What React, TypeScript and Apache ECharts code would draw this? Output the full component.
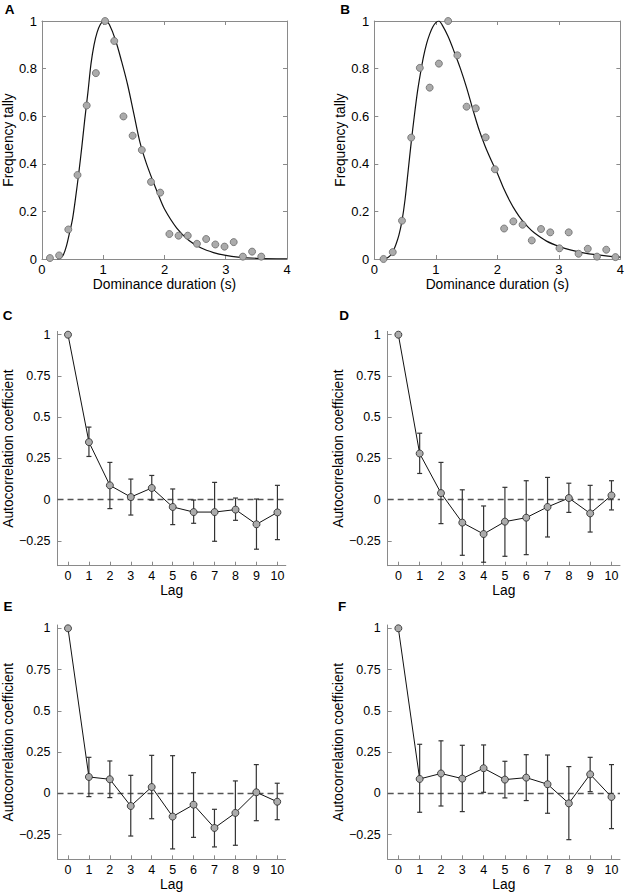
import React, { useEffect, useRef } from "react";
import * as echarts from "echarts";

// ---------- Data ----------
// Panel A: histogram dots + fitted curve
const aDotX = [0.13, 0.28, 0.43, 0.58, 0.73, 0.88, 1.03, 1.18, 1.33, 1.48, 1.63, 1.78, 1.93, 2.08, 2.23, 2.38, 2.53, 2.68, 2.83, 2.98, 3.13, 3.28, 3.43, 3.58];
const aDotY = [0.004, 0.015, 0.124, 0.353, 0.645, 0.781, 1.0, 0.916, 0.599, 0.518, 0.458, 0.324, 0.279, 0.105, 0.098, 0.098, 0.064, 0.084, 0.061, 0.052, 0.071, 0.01, 0.031, 0.01];
const aFitX = [0.25, 0.3, 0.35, 0.4, 0.45, 0.5, 0.55, 0.6, 0.65, 0.7, 0.75, 0.8, 0.85, 0.9, 0.95, 1.0, 1.05, 1.1, 1.2, 1.3, 1.4, 1.5, 1.6, 1.7, 1.8, 1.9, 2.0, 2.2, 2.4, 2.6, 2.8, 3.0, 3.2, 3.5, 4.0];
const aFitY = [0.0, 0.003, 0.018, 0.055, 0.11, 0.17, 0.26, 0.36, 0.47, 0.59, 0.7, 0.82, 0.9, 0.952, 0.984, 0.998, 0.998, 0.985, 0.92, 0.83, 0.73, 0.61, 0.49, 0.405, 0.335, 0.27, 0.21, 0.13, 0.078, 0.046, 0.027, 0.015, 0.008, 0.003, 0.0005];

// Panel B
const bDotX = [0.15, 0.3, 0.45, 0.6, 0.74, 0.9, 1.05, 1.2, 1.35, 1.5, 1.65, 1.81, 1.96, 2.11, 2.26, 2.41, 2.56, 2.71, 2.86, 3.01, 3.16, 3.32, 3.47, 3.62, 3.77, 3.92];
const bDotY = [0.0, 0.029, 0.161, 0.51, 0.803, 0.72, 0.821, 1.0, 0.856, 0.64, 0.633, 0.511, 0.377, 0.128, 0.158, 0.144, 0.078, 0.126, 0.112, 0.045, 0.112, 0.022, 0.043, 0.01, 0.039, 0.008];
const bFitX = [0.15, 0.2, 0.25, 0.3, 0.35, 0.4, 0.45, 0.5, 0.55, 0.6, 0.65, 0.7, 0.75, 0.8, 0.85, 0.9, 0.95, 1.0, 1.05, 1.1, 1.2, 1.3, 1.4, 1.5, 1.6, 1.7, 1.8, 1.9, 2.0, 2.1, 2.2, 2.3, 2.4, 2.5, 2.6, 2.8, 3.0, 3.2, 3.4, 3.6, 3.8, 4.0];
const bFitY = [0.0, 0.003, 0.012, 0.03, 0.06, 0.1, 0.16, 0.25, 0.37, 0.49, 0.6, 0.7, 0.78, 0.85, 0.905, 0.945, 0.975, 0.993, 1.0, 0.985, 0.935, 0.87, 0.8, 0.72, 0.63, 0.545, 0.475, 0.415, 0.36, 0.298, 0.245, 0.2, 0.163, 0.134, 0.11, 0.075, 0.053, 0.037, 0.026, 0.018, 0.012, 0.008];

// Autocorrelation panels
const lags = [0, 1, 2, 3, 4, 5, 6, 7, 8, 9, 10];
const errLags = [1, 2, 3, 4, 5, 6, 7, 8, 9, 10];

const cMean = [1.0, 0.349, 0.087, 0.016, 0.071, -0.044, -0.075, -0.075, -0.06, -0.149, -0.077];
const cLow = [0.262, -0.054, -0.093, -0.002, -0.151, -0.143, -0.252, -0.125, -0.3, -0.242];
const cHigh = [0.44, 0.226, 0.125, 0.147, 0.065, -0.002, 0.105, 0.01, 0.004, 0.087];

const dMean = [1.0, 0.28, 0.04, -0.139, -0.208, -0.133, -0.109, -0.044, 0.01, -0.083, 0.026];
const dLow = [0.159, -0.145, -0.337, -0.379, -0.343, -0.333, -0.226, -0.077, -0.196, -0.062];
const dHigh = [0.403, 0.226, 0.06, -0.038, 0.075, 0.115, 0.135, 0.1, 0.087, 0.115];

const eMean = [1.0, 0.099, 0.085, -0.077, 0.038, -0.141, -0.069, -0.21, -0.119, 0.006, -0.051];
const eLow = [-0.02, -0.026, -0.259, -0.154, -0.337, -0.267, -0.325, -0.315, -0.166, -0.16];
const eHigh = [0.218, 0.196, 0.109, 0.23, 0.228, 0.125, -0.097, 0.075, 0.174, 0.061];

const fMean = [1.0, 0.087, 0.12, 0.089, 0.152, 0.083, 0.095, 0.055, -0.061, 0.115, -0.022];
const fLow = [-0.115, -0.077, -0.111, 0.006, -0.028, -0.044, -0.121, -0.281, 0.01, -0.214];
const fHigh = [0.297, 0.318, 0.291, 0.293, 0.194, 0.234, 0.232, 0.162, 0.218, 0.174];

const histTicks = [0, 0.2, 0.4, 0.6, 0.8, 1];
const acfYTicks = [-0.25, 0, 0.25, 0.5, 0.75, 1];
const panelLetters = ["A", "B", "C", "D", "E", "F"];

// ---------- Styling ----------
const FONT = "'Liberation Sans', Arial, Helvetica, sans-serif";
const AXIS_GRAY = "#8a8a8a";

const grids = [
  { left: 40, top: 21, width: 247, height: 238 },
  { left: 374.3, top: 21, width: 247.5, height: 238 },
  { left: 53.5, top: 331.4, width: 232.3, height: 234.3 },
  { left: 387.7, top: 331.4, width: 232.3, height: 234.3 },
  { left: 53.3, top: 625, width: 232.3, height: 234.3 },
  { left: 387.7, top: 625, width: 232.3, height: 234.3 },
];
const letterPos = [
  [9.5, 9.5],
  [345, 9],
  [7.5, 315],
  [344, 315.5],
  [8, 606],
  [342, 606],
];

const axisLineStyle = { show: true, onZero: false, lineStyle: { color: AXIS_GRAY, width: 1 } };
const tickStyle = { show: true, inside: true, length: 4, lineStyle: { color: AXIS_GRAY, width: 1 } };

function fmtNum(v: number) {
  return v < 0 ? "\u2212" + String(Math.abs(v)) : String(v);
}

export default function App() {
  const ref = useRef<HTMLDivElement>(null);

  useEffect(() => {
    if (!ref.current) return;
    const chart = echarts.init(ref.current, undefined, { renderer: "svg" });

    const xAxes: any[] = [];
    const yAxes: any[] = [];
    const series: any[] = [];

    // Histogram panels A, B (indices 0..3 for axes)
    const hist = [
      { dx: aDotX, dy: aDotY, fx: aFitX, fy: aFitY, gap: 26 },
      { dx: bDotX, dy: bDotY, fx: bFitX, fy: bFitY, gap: 25 },
    ];
    hist.forEach((h, k) => {
      const base = k * 2;
      xAxes.push({
        gridIndex: k, type: "value", min: 0, max: 4, interval: 1, position: "bottom",
        axisLine: axisLineStyle, axisTick: tickStyle, splitLine: { show: false },
        axisLabel: { color: "#000", fontSize: 13, fontFamily: FONT, margin: 4 },
        name: "Dominance duration (s)", nameLocation: "middle", nameGap: 18,
        nameTextStyle: { color: "#000", fontSize: 13.8, fontFamily: FONT },
      });
      xAxes.push({
        gridIndex: k, type: "value", min: 0, max: 4, interval: 1, position: "top",
        axisLine: axisLineStyle, axisTick: tickStyle, splitLine: { show: false },
        axisLabel: { show: false },
      });
      yAxes.push({
        gridIndex: k, type: "value", min: 0, max: 1, position: "left",
        axisLine: axisLineStyle, splitLine: { show: false },
        axisTick: { ...tickStyle, customValues: histTicks },
        axisLabel: { color: "#000", fontSize: 13, fontFamily: FONT, margin: 5, customValues: histTicks, formatter: (v: number) => fmtNum(v) },
        name: "Frequency tally", nameLocation: "middle", nameGap: h.gap,
        nameTextStyle: { color: "#000", fontSize: 13.8, fontFamily: FONT },
      });
      yAxes.push({
        gridIndex: k, type: "value", min: 0, max: 1, position: "right",
        axisLine: axisLineStyle, splitLine: { show: false },
        axisTick: { ...tickStyle, customValues: histTicks },
        axisLabel: { show: false },
      });
      series.push({
        type: "line", xAxisIndex: base, yAxisIndex: base,
        data: h.fx.map((x, i) => [x, h.fy[i]]),
        smooth: 0.3, symbol: "none", silent: true,
        lineStyle: { color: "#111", width: 1.2 }, z: 2,
      });
      series.push({
        type: "scatter", xAxisIndex: base, yAxisIndex: base,
        data: h.dx.map((x, i) => [x, h.dy[i]]),
        symbol: "circle", symbolSize: 7, silent: true,
        itemStyle: { color: "#ababab", borderColor: "#6a6a6a", borderWidth: 0.8, opacity: 1 },
        z: 3,
      });
    });

    // ACF panels C..F (axes index 4..7)
    const acf = [
      { m: cMean, lo: cLow, hi: cHigh, gap: 39 },
      { m: dMean, lo: dLow, hi: dHigh, gap: 38.5 },
      { m: eMean, lo: eLow, hi: eHigh, gap: 39 },
      { m: fMean, lo: fLow, hi: fHigh, gap: 38.5 },
    ];
    acf.forEach((p, k) => {
      const gi = k + 2;
      const ai = k + 4;
      xAxes.push({
        gridIndex: gi, type: "value", min: -0.5, max: 10.4, position: "bottom",
        axisLine: axisLineStyle, splitLine: { show: false },
        axisTick: { ...tickStyle, customValues: lags },
        axisLabel: { color: "#000", fontSize: 12.5, fontFamily: FONT, margin: 4, customValues: lags },
        name: "Lag", nameLocation: "middle", nameGap: 17,
        nameTextStyle: { color: "#000", fontSize: 13.8, fontFamily: FONT },
      });
      yAxes.push({
        gridIndex: gi, type: "value", min: -0.4, max: 1.02, position: "left",
        axisLine: axisLineStyle, splitLine: { show: false },
        axisTick: { ...tickStyle, customValues: acfYTicks },
        axisLabel: { color: "#000", fontSize: 12.5, fontFamily: FONT, margin: 7, customValues: acfYTicks, formatter: (v: number) => fmtNum(v) },
        name: "Autocorrelation coefficient", nameLocation: "middle", nameGap: p.gap,
        nameTextStyle: { color: "#000", fontSize: 13.8, fontFamily: FONT },
      });
      series.push({
        type: "custom", xAxisIndex: ai, yAxisIndex: ai, silent: true, z: 1,
        data: errLags.map((l, i) => [l, p.lo[i], p.hi[i]]),
        renderItem: (params: any, api: any) => {
          const x = api.value(0);
          const top = api.coord([x, api.value(2)]);
          const bot = api.coord([x, api.value(1)]);
          const w = 2.5;
          const st = { stroke: "#333", lineWidth: 1.2 };
          return {
            type: "group",
            children: [
              { type: "line", shape: { x1: top[0], y1: top[1], x2: bot[0], y2: bot[1] }, style: st },
              { type: "line", shape: { x1: top[0] - w, y1: top[1], x2: top[0] + w, y2: top[1] }, style: st },
              { type: "line", shape: { x1: bot[0] - w, y1: bot[1], x2: bot[0] + w, y2: bot[1] }, style: st },
            ],
          };
        },
      });
      series.push({
        type: "line", xAxisIndex: ai, yAxisIndex: ai, silent: true, z: 3,
        data: lags.map((l, i) => [l, p.m[i]]),
        symbol: "circle", symbolSize: 7, showSymbol: true,
        lineStyle: { color: "#111", width: 1 },
        itemStyle: { color: "#ababab", borderColor: "#222", borderWidth: 0.8 },
        markLine: {
          silent: true, symbol: ["none", "none"], label: { show: false },
          lineStyle: { color: "#555", type: [6, 4], width: 1.4 },
          data: [{ yAxis: 0 }],
          z: 1,
        },
      });
    });

    const graphic = panelLetters.map((t, i) => ({
      type: "text",
      x: letterPos[i][0],
      y: letterPos[i][1],
      style: {
        text: t,
        fill: "#000",
        font: `bold 13.5px ${FONT}`,
        textAlign: "center",
        textVerticalAlign: "middle",
        align: "center",
        verticalAlign: "middle",
      },
    }));

    chart.setOption({
      animation: false,
      backgroundColor: "#fff",
      textStyle: { fontFamily: FONT },
      grid: grids,
      xAxis: xAxes,
      yAxis: yAxes,
      series,
      graphic,
    });

    return () => chart.dispose();
  }, []);

  return (
    <div
      ref={ref}
      style={{ position: "absolute", left: 0, top: 0, width: 627, height: 893 }}
    />
  );
}
